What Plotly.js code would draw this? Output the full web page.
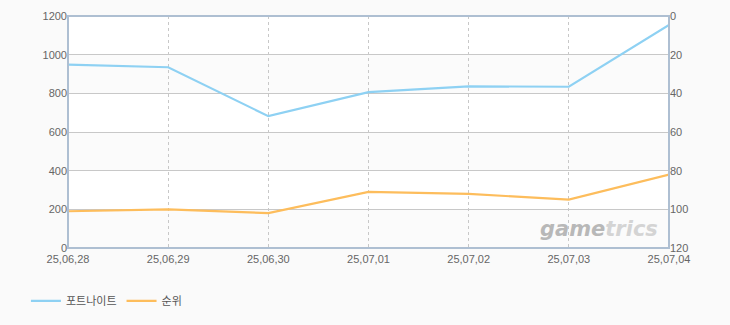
<!DOCTYPE html>
<html>
<head>
<meta charset="utf-8">
<script src="https://cdn.plot.ly/plotly-3.0.1.min.js"></script>
<style>html,body{margin:0;padding:0;background:#fafafa;}#chart{width:730px;height:325px;}</style>
</head>
<body>
<div id="chart"></div>
<script>
var dates = ["25,06,28","25,06,29","25,06,30","25,07,01","25,07,02","25,07,03","25,07,04"];
var fortnite = [948, 935, 682, 806, 836, 834, 1154];
var rank = [101, 100, 102, 91, 92, 95, 82];
var leftTicks = [0, 200, 400, 600, 800, 1000, 1200];
var rightTicks = [0, 20, 40, 60, 80, 100, 120];

var shapes = [];
for (var i = 0; i < leftTicks.length - 1; i++) {
  shapes.push({type:'rect', xref:'paper', yref:'y', x0:0, x1:1, y0:leftTicks[i], y1:leftTicks[i+1],
    fillcolor: (i % 2 === 0) ? '#fbfbfb' : '#ffffff', line:{width:0}, layer:'below'});
}
shapes.push({type:'rect', xref:'paper', yref:'paper', x0:0, x1:1, y0:0, y1:1,
  line:{color:'#aebfd2', width:2}, fillcolor:'rgba(0,0,0,0)', layer:'above'});

var traces = [
  {x: dates, y: fortnite, name: '포트나이트', type:'scatter', mode:'lines',
   line:{color:'#8ed1f3', width:2.2}, yaxis:'y'},
  {x: dates, y: rank, name: '순위', type:'scatter', mode:'lines',
   line:{color:'#fdbd5c', width:2.2}, yaxis:'y2'}
];

var tickFont = {family:'Liberation Sans, Arial, sans-serif', size:11, color:'#666666'};

var layout = {
  width:730, height:325,
  margin:{l:68, r:61, t:16, b:77, pad:0, autoexpand:false},
  paper_bgcolor:'#fafafa', plot_bgcolor:'#ffffff',
  showlegend:true,
  legend:{orientation:'h', x:-0.07, xanchor:'left', y:-0.165, yanchor:'top',
    font:{family:'Noto Sans CJK KR, sans-serif', size:11, color:'#555555'}, bgcolor:'rgba(0,0,0,0)', itemwidth:30},
  xaxis:{type:'category', range:[0, dates.length-1], showgrid:true, gridcolor:'#c8c8c8', griddash:'3px,3px', gridwidth:1,
    tickfont:tickFont, ticks:'', showline:false, zeroline:false, fixedrange:true, automargin:false, ticklabelstandoff:3},
  yaxis:{range:[0,1200], tickvals:leftTicks, ticktext:leftTicks.map(String), showgrid:true, gridcolor:'#c8c8c8', gridwidth:1,
    tickfont:tickFont, ticks:'', showline:false, zeroline:false, automargin:false},
  yaxis2:{range:[120,0], tickvals:rightTicks, overlaying:'y', side:'right', showgrid:false,
    tickfont:tickFont, ticks:'', showline:false, zeroline:false, automargin:false},
  shapes: shapes,
  annotations:[{xref:'paper', yref:'paper', x:0.985, y:0.02, xanchor:'right', yanchor:'bottom', showarrow:false,
    text:'<b><i><span style="color:#b8b8b8">game</span><span style="color:#d4d4d4">trics</span></i></b>',
    font:{family:'DejaVu Sans, sans-serif', size:21, color:'#c0c0c0'}}]
};
Plotly.newPlot('chart', traces, layout, {displayModeBar:false, staticPlot:true});
</script>
</body>
</html>
